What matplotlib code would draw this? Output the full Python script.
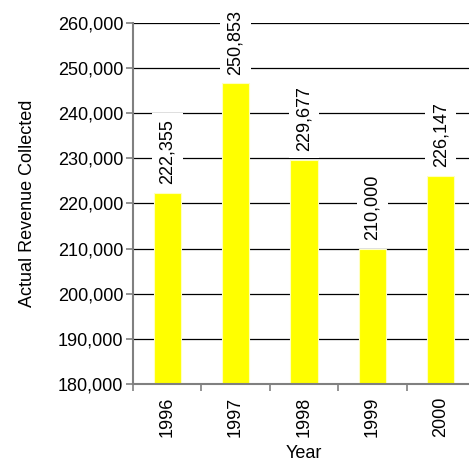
import matplotlib
matplotlib.use("Agg")
import matplotlib.pyplot as plt
from matplotlib.ticker import FuncFormatter

# data
years = ["1996", "1997", "1998", "1999", "2000"]
# bar heights as drawn (the 1997 bar is drawn lower than its label says)
bar_heights = [222355, 246700, 229677, 210000, 226147]
bar_labels = ["222,355", "250,853", "229,677", "210,000", "226,147"]
y_ticks = [180000, 190000, 200000, 210000, 220000, 230000, 240000, 250000, 260000]

plt.rcParams["font.family"] = ["Liberation Sans", "DejaVu Sans"]

fig = plt.figure(figsize=(4.69, 4.66), dpi=100)
ax = fig.add_axes([0.2836, 0.176, 0.729, 0.775])

x = list(range(len(years)))
ax.bar(x, bar_heights, width=0.4, color="#ffff00", edgecolor="#ffffc0",
       linewidth=0.8, zorder=2)

for xi, h, lab in zip(x, bar_heights, bar_labels):
    ax.annotate(lab, (xi, h), xytext=(0, 6), textcoords="offset points",
                rotation=90, ha="center", va="bottom", fontsize=13,
                bbox=dict(facecolor="white", edgecolor="none", pad=5),
                zorder=4)

ax.set_ylim(180000, 260000)
ax.set_xlim(-0.5, 4.5)
ax.set_yticks(y_ticks)
ax.yaxis.set_major_formatter(FuncFormatter(lambda v, p: f"{int(v):,}"))
ax.set_xticks([i - 0.5 for i in range(len(years) + 1)])
ax.set_xticklabels([])
ax.set_xticks(x, minor=True)
ax.set_xticklabels(years, minor=True, rotation=90, fontsize=13)
ax.tick_params(axis="x", which="minor", length=0, pad=9)
ax.tick_params(axis="x", which="major", length=5, color="#808080", width=1.2)
ax.tick_params(axis="y", length=5, color="#808080", width=1.2, labelsize=13, pad=2)

ax.yaxis.grid(True, color="black", linewidth=0.9, zorder=0)
ax.set_axisbelow(True)
for s in ["top", "right"]:
    ax.spines[s].set_visible(False)
for s in ["left", "bottom"]:
    ax.spines[s].set_color("#808080")
    ax.spines[s].set_linewidth(1.5)

ax.set_ylabel("Actual Revenue Collected", fontsize=13, labelpad=16)
ax.set_xlabel("Year", fontsize=13, labelpad=6)

fig.savefig("out.png", dpi=100)
